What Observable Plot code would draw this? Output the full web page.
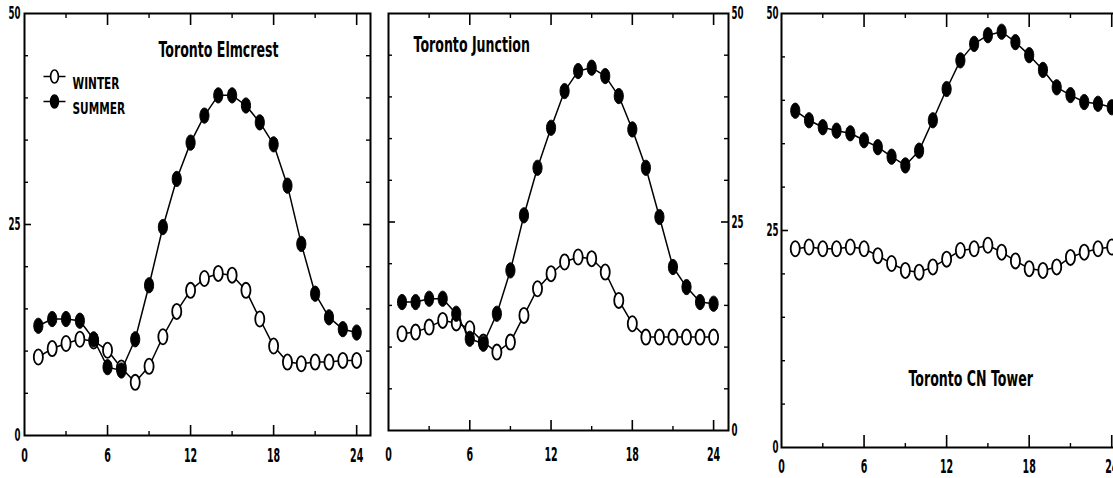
<!DOCTYPE html>
<html><head><meta charset="utf-8">
<script src="https://cdn.jsdelivr.net/npm/d3@7"></script>
<script src="https://cdn.jsdelivr.net/npm/@observablehq/plot@0.6"></script>
<style>
body{margin:0;width:1113px;height:478px;overflow:hidden;background:#fff;position:relative}
.p{position:absolute;top:0;height:478px}
.p svg{max-width:none !important;overflow:visible}
</style></head><body>
<div id="p1" class="p" style="left:0px;width:380px"></div>
<div id="p2" class="p" style="left:380px;width:370px"></div>
<div id="p3" class="p" style="left:750px;width:385px"></div>
<script>
// ---- data ----
const hours = [1,2,3,4,5,6,7,8,9,10,11,12,13,14,15,16,17,18,19,20,21,22,23,24];
const seasons = ["WINTER","SUMMER"];
const stations = ["Toronto Elmcrest","Toronto Junction","Toronto CN Tower"];
const elmWinter = [9.3,10.3,10.9,11.4,11.2,10.1,8.0,6.3,8.2,11.7,14.7,17.2,18.6,19.2,19.0,17.2,13.8,10.6,8.7,8.5,8.7,8.7,8.9,8.9];
const elmSummer = [13.0,13.8,13.8,13.6,11.4,8.1,7.7,11.4,17.8,24.7,30.4,34.7,37.9,40.3,40.3,39.1,37.1,34.5,29.6,22.7,16.8,14.0,12.6,12.2];
const junWinter = [11.6,11.8,12.4,13.2,12.9,12.2,10.6,9.4,10.6,13.8,17.0,18.8,20.2,20.8,20.6,19.0,15.6,12.8,11.2,11.2,11.2,11.2,11.2,11.2];
const junSummer = [15.4,15.4,15.8,15.8,14.0,11.0,10.4,14.0,19.2,25.8,31.5,36.3,40.7,43.1,43.5,42.5,40.1,36.1,31.5,25.6,19.6,17.2,15.4,15.2];
const cnWinter  = [22.9,23.1,22.9,22.9,23.1,22.9,22.1,21.2,20.4,20.2,20.8,21.7,22.7,22.9,23.3,22.5,21.5,20.6,20.4,20.8,21.9,22.5,22.9,23.1];
const cnSummer  = [38.8,37.7,36.9,36.5,36.2,35.4,34.6,33.5,32.5,34.2,37.7,41.3,44.6,46.5,47.5,47.9,46.7,45.2,43.5,41.5,40.6,39.8,39.6,39.2];
const xTickLabels = [0,6,12,18,24];
const yTickLabels = [0,25,50];
const xMajorTicks = [6,12,18,24];
const xMinorTicks = [3,9,15,21];
const yMajorTicks = [25];
const yMinorTicks = [5,10,15,20,30,35,40,45];

const toRows = (w, s) => [
  ...hours.map((h,i)=>({hour:h, value:w[i], season:seasons[0]})),
  ...hours.map((h,i)=>({hour:h, value:s[i], season:seasons[1]}))
];

// vertical ellipse symbol
function drawEllipse(ctx, rx, ry){
  const k = 0.5523;
  ctx.moveTo(0,-ry);
  ctx.bezierCurveTo(k*rx,-ry, rx,-k*ry, rx,0);
  ctx.bezierCurveTo(rx,k*ry, k*rx,ry, 0,ry);
  ctx.bezierCurveTo(-k*rx,ry, -rx,k*ry, -rx,0);
  ctx.bezierCurveTo(-rx,-k*ry, -k*rx,-ry, 0,-ry);
  ctx.closePath();
}
const ellipse = {draw(ctx, size){ const r=Math.sqrt(size/Math.PI); drawEllipse(ctx, r*0.6, r); }};
const legendSym = {draw(ctx, size){
  const r=Math.sqrt(size/Math.PI), rx=r*0.6;
  ctx.moveTo(-11,0); ctx.lineTo(-rx,0);
  ctx.moveTo(rx,0); ctx.lineTo(11,0);
  ctx.moveTo(0,-r); drawEllipse(ctx, rx, r);
}};

const FONT = "'DejaVu Sans',sans-serif";
const SQUEEZE = {"19":0.5, "18":0.48, "21":0.6, "16.5":0.64};

// horizontally condense every text of an attached svg, pivoting on its anchor point
function condense(svg){
  const NS = "http://www.w3.org/2000/svg";
  Array.from(svg.querySelectorAll("text")).forEach(t => {
    const fs = String(parseFloat(getComputedStyle(t).fontSize));
    const sx = SQUEEZE[fs] || 0.6;
    const anchor = getComputedStyle(t).textAnchor;
    const g = document.createElementNS(NS, "g");
    t.parentNode.insertBefore(g, t);
    g.appendChild(t);
    const bb = g.getBBox();
    const px = anchor === "middle" ? bb.x + bb.width/2 : anchor === "end" ? bb.x + bb.width : bb.x;
    g.setAttribute("transform", `translate(${px},0) scale(${sx},1) translate(${-px},0)`);
  });
}

function panel(cfg){
  const {rows, width, height, mL, mR, mT, mB, xMax, yAnchor, yPad, xPad, tickLen, title, legend} = cfg;
  const pw = width - mL - mR, ph = height - mT - mB;
  const W = rows.filter(d=>d.season===seasons[0]);
  const S = rows.filter(d=>d.season===seasons[1]);
  const marks = [
    Plot.frame({stroke:"#000", strokeWidth:2}),
    Plot.tickX(xMajorTicks, {x:d=>d, insetTop: ph-tickLen, stroke:"#000", strokeWidth:1.6}),
    Plot.tickX(xMajorTicks, {x:d=>d, insetBottom: ph-tickLen-2, stroke:"#000", strokeWidth:1.6}),
    Plot.tickX(xMinorTicks, {x:d=>d, insetTop: ph-4, stroke:"#000", strokeWidth:1.4}),
    Plot.tickX(xMinorTicks, {x:d=>d, insetBottom: ph-5, stroke:"#000", strokeWidth:1.4}),
    Plot.tickY(yMajorTicks, {y:d=>d, insetRight: pw-7, stroke:"#000", strokeWidth:1.6}),
    Plot.tickY(yMajorTicks, {y:d=>d, insetLeft: pw-7, stroke:"#000", strokeWidth:1.6}),
    Plot.tickY(yMinorTicks, {y:d=>d, insetRight: pw-4, stroke:"#000", strokeWidth:1.4}),
    Plot.tickY(yMinorTicks, {y:d=>d, insetLeft: pw-4, stroke:"#000", strokeWidth:1.4}),
    // tick labels
    Plot.text(xTickLabels, {x:d=>d, text:d=>String(d), frameAnchor:"bottom", lineAnchor:"top", dy:xPad, fontSize:19, fontWeight:"bold"}),
    Plot.text(yTickLabels, {y:d=>d, text:d=>String(d), frameAnchor:yAnchor,
      textAnchor: yAnchor==="left" ? "end" : "start", dx: yAnchor==="left" ? -yPad : yPad, fontSize:18, fontWeight:"bold"}),
    Plot.line(W, {x:"hour", y:"value", stroke:"#000", strokeWidth:1.5}),
    Plot.dot(W, {x:"hour", y:"value", symbol:ellipse, r:7.6, fill:"#fff", stroke:"#000", strokeWidth:1.8}),
    Plot.line(S, {x:"hour", y:"value", stroke:"#000", strokeWidth:1.5}),
    Plot.dot(S, {x:"hour", y:"value", symbol:ellipse, r:7.6, fill:"#000", stroke:"#000", strokeWidth:1}),
    Plot.text([title.text], {text:d=>d, frameAnchor:"top-left", dx:title.dx, dy:title.dy, textAnchor:title.anchor, fontSize:21, fontWeight:"bold"})
  ];
  if (legend){
    marks.push(
      Plot.dot([seasons[0]], {frameAnchor:"top-left", dx:30, dy:63, symbol:legendSym, r:6.5, fill:"#fff", stroke:"#000", strokeWidth:1.7}),
      Plot.dot([seasons[1]], {frameAnchor:"top-left", dx:30, dy:88, symbol:legendSym, r:6.5, fill:"#000", stroke:"#000", strokeWidth:1.7}),
      Plot.text([seasons[0]], {text:d=>d, frameAnchor:"top-left", dx:48, dy:64, textAnchor:"start", fontSize:16.5, fontWeight:"bold"}),
      Plot.text([seasons[1]], {text:d=>d, frameAnchor:"top-left", dx:48, dy:89, textAnchor:"start", fontSize:16.5, fontWeight:"bold"})
    );
  }
  return Plot.plot({
    width, height,
    marginLeft:mL, marginRight:mR, marginTop:mT, marginBottom:mB,
    x:{domain:[0,xMax], axis:null}, y:{domain:[0,50], axis:null},
    style:{fontFamily:FONT, fontWeight:"bold", color:"#000", background:"transparent", overflow:"visible", maxWidth:"none"},
    marks
  });
}

const configs = [
  {id:"p1", rows: toRows(elmWinter, elmSummer), width:380, height:478, mL:24, mR:10, mT:13, mB:43,
   xMax:25, yAnchor:"left", yPad:4, xPad:13, tickLen:10,
   title:{text:stations[0], dx:194, dy:29, anchor:"middle"}, legend:true},
  {id:"p2", rows: toRows(junWinter, junSummer), width:370, height:478, mL:8, mR:22, mT:13, mB:48,
   xMax:25.1, yAnchor:"right", yPad:3, xPad:17, tickLen:10,
   title:{text:stations[1], dx:25, dy:24, anchor:"start"}, legend:false},
  {id:"p3", rows: toRows(cnWinter, cnSummer), width:385, height:478, mL:31, mR:10, mT:13, mB:31,
   xMax:25, yAnchor:"left", yPad:3, xPad:12, tickLen:12,
   title:{text:stations[2], dx:189, dy:358, anchor:"middle"}, legend:false}
];
for (const c of configs){
  const svg = panel(c);
  document.getElementById(c.id).append(svg);
  condense(svg);
}
</script>
</body></html>
